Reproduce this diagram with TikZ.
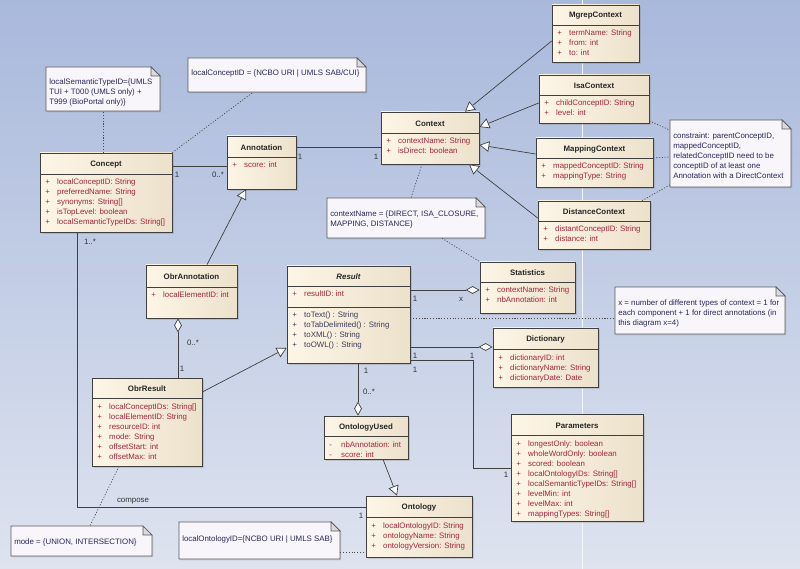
\documentclass[tikz,border=0pt]{standalone}
\usepackage{fontspec}
\setmainfont{Liberation Sans}
\usetikzlibrary{arrows.meta,fit,shadows}

\definecolor{bgtop}{HTML}{A9B9DC}
\definecolor{bgbot}{HTML}{DEE3EF}
\definecolor{clsleft}{HTML}{FDF5E6}
\definecolor{clsright}{HTML}{ECE1CB}
\definecolor{linecol}{HTML}{404040}
\definecolor{attrcol}{HTML}{A3263E}
\definecolor{methcol}{HTML}{3C3C5C}
\definecolor{notefill}{HTML}{F8F6FB}
\definecolor{notetxt}{HTML}{28285A}
\definecolor{foldcol}{HTML}{D9D9DE}

\newcommand{\umlfont}{\fontsize{5.6}{6.7}\selectfont}

% class box: name, x1, y1, x2, y2, separator, title
\newcommand{\umlclass}[7]{%
  \node[classbox, fit={(#2,#3) (#4,#5)}] (#1) {};
  \draw[classline] (#1.west |- 0,#6) -- (#1.east |- 0,#6);
  \node[classtitle] (#1-title) at ({(#2+#4)/2},{(#3+#6)/2+1}) {#7};
}
% members: style, name, x1, first baseline, marker, list
\newcommand{\umlmembers}[6]{%
  \foreach \t [count=\i] in {#6}
    \node[#1] (#2-#5\i) at ({#3+5},{#4+10*(\i-1)}) {\makebox[8.5pt][l]{#5}\t};
}
% note: name, x1, y1, x2, y2, first baseline, lines
\newcommand{\umlnote}[7]{%
  \node[notearea, fit={(#2,#3) (#4,#5)}] (#1) {};
  \filldraw[notebox] (#2,#3) -- ({#4-9},#3) -- (#4,{#3+9}) -- (#4,#5) -- (#2,#5) -- cycle;
  \filldraw[notefold] ({#4-9},#3) -- ({#4-9},{#3+9}) -- (#4,{#3+9}) -- cycle;
  \foreach \t [count=\i] in {#7}
    \node[notetext] (#1-\i) at ({#2+3},{#6+10*(\i-1)}) {\t};
}

\begin{document}
\begin{tikzpicture}[x=0.025cm, y=-0.025cm,
    classbox/.style={draw=linecol, line width=0.5pt, left color=clsleft, right color=clsright,
      inner sep=0pt, drop shadow={shadow xshift=1.3pt, shadow yshift=-1.3pt, opacity=0.3}},
    classline/.style={draw=linecol, line width=0.5pt},
    classtitle/.style={inner sep=0pt, font=\umlfont\bfseries, text=black!85},
    attr/.style={anchor=base west, inner sep=0pt, font=\umlfont, text=attrcol},
    meth/.style={anchor=base west, inner sep=0pt, font=\umlfont, text=methcol},
    notearea/.style={inner sep=0pt},
    notebox/.style={draw=black!65, line width=0.5pt, fill=notefill,
      drop shadow={shadow xshift=1pt, shadow yshift=-1pt, opacity=0.2}},
    notefold/.style={draw=black!65, line width=0.5pt, fill=foldcol},
    notetext/.style={anchor=base west, inner sep=0pt, font=\umlfont, text=notetxt},
    mult/.style={inner sep=0pt, font=\umlfont, text=black!80},
    assoc/.style={draw=linecol, line width=0.5pt},
    gen/.style={assoc, -{Triangle[length=7pt, width=7.5pt, fill=white]}},
    aggend/.style={assoc, -{Diamond[length=10pt, width=5.5pt, fill=white]}},
    aggstart/.style={assoc, {Diamond[length=10pt, width=5.5pt, fill=white]}-},
    noteline/.style={draw=black!70, line width=0.5pt, dash pattern=on 0.8pt off 1.2pt}]

    % background
    \shade[top color=bgtop, bottom color=bgbot] (0,0) rectangle (800,569);
    \useasboundingbox (0,0) rectangle (800,569);
    \draw[white!85!bgtop, line width=0.4pt] (582,0) -- (582,569);

    % notes
    \umlnote{semnote}{46}{67}{160}{111}{85}{localSemanticTypeID=\{UMLS, TUI + T000 (UMLS only) +, T999 (BioPortal only)\}}
    \umlnote{cidnote}{188}{58}{366}{92}{76}{localConceptID = \{NCBO URI | UMLS SAB/CUI\}}
    \umlnote{ctxnote}{327}{198}{485}{238}{217}{{contextName = \{DIRECT, ISA\_CLOSURE,}, {MAPPING, DISTANCE\}}}
    \umlnote{constraint}{670}{120}{791}{187}{139}{{constraint: parentConceptID,}, {mappedConceptID,}, relatedConceptID need to be, conceptID of at least one, Annotation with a DirectContext}
    \umlnote{xnote}{615}{287}{785}{334}{306}{x = number of different types of context = 1 for, each component + 1 for direct annotations (in, this diagram x=4)}
    \umlnote{modenote}{11}{526}{152}{556}{544}{{mode = \{UNION, INTERSECTION\}}}
    \umlnote{ontnote}{179}{522}{340}{559}{541}{localOntologyID=\{NCBO URI | UMLS SAB\}}

    % classes
    \umlclass{concept}{40}{153}{172}{232}{174}{Concept}
    \umlmembers{attr}{concept}{40}{185}{+}{localConceptID: String, preferredName: String, synonyms: String[], isTopLevel: boolean, localSemanticTypeIDs: String[]}
    \umlclass{annotation}{227}{136}{296}{189}{157}{Annotation}
    \umlmembers{attr}{annotation}{227}{168}{+}{score: int}
    \umlclass{context}{381}{112}{479}{164}{133}{Context}
    \umlmembers{attr}{context}{381}{144}{+}{contextName: String, isDirect: boolean}
    \umlclass{mgrep}{552}{5}{639}{62}{25}{MgrepContext}
    \umlmembers{attr}{mgrep}{552}{36}{+}{termName: String, from: int, to: int}
    \umlclass{isa}{539}{75}{649}{123}{95}{IsaContext}
    \umlmembers{attr}{isa}{539}{106}{+}{childConceptID: String, level: int}
    \umlclass{mapping}{536}{138}{653}{187}{158}{MappingContext}
    \umlmembers{attr}{mapping}{536}{169}{+}{mappedConceptID: String, mappingType: String}
    \umlclass{distance}{538}{201}{650}{249}{221}{DistanceContext}
    \umlmembers{attr}{distance}{538}{232}{+}{distantConceptID: String, distance: int}
    \umlclass{obrannotation}{146}{265}{237}{318}{287}{ObrAnnotation}
    \umlmembers{attr}{obrannotation}{146}{298}{+}{localElementID: int}
    \umlclass{obrresult}{92}{378}{202}{466}{398}{ObrResult}
    \umlmembers{attr}{obrresult}{92}{409}{+}{localConceptIDs: String[], localElementID: String, resourceID: int, mode: String, offsetStart: int, offsetMax: int}
    \umlclass{result}{287}{266}{410}{363}{286}{\itshape Result}
    \umlmembers{attr}{result}{287}{297}{+}{resultID: int}
    \draw[classline] (result.west |- 0,307) -- (result.east |- 0,307);
    \umlmembers{meth}{result-m}{287}{318}{+}{toText() : String, toTabDelimited() : String, toXML() : String, toOWL() : String}
    \umlclass{statistics}{480}{262}{575}{313}{282}{Statistics}
    \umlmembers{attr}{statistics}{480}{293}{+}{contextName: String, nbAnnotation: int}
    \umlclass{dictionary}{493}{328}{598}{387}{349}{Dictionary}
    \umlmembers{attr}{dictionary}{493}{360}{+}{dictionaryID: int, dictionaryName: String, dictionaryDate: Date}
    \umlclass{parameters}{511}{414}{643}{521}{435}{Parameters}
    \umlmembers{attr}{parameters}{511}{446}{+}{longestOnly: boolean, wholeWordOnly: boolean, scored: boolean, localOntologyIDs: String[], localSemanticTypeIDs: String[], levelMin: int, levelMax: int, mappingTypes: String[]}
    \umlclass{ontologyused}{324}{416}{408}{459}{436}{OntologyUsed}
    \umlmembers{attr}{ontologyused}{324}{447}{-}{nbAnnotation: int, score: int}
    \umlclass{ontology}{366}{496}{472}{557}{517}{Ontology}
    \umlmembers{attr}{ontology}{366}{528}{+}{localOntologyID: String, ontologyName: String, ontologyVersion: String}

    % associations
    \draw[assoc] (concept.east |- 0,166) -- (annotation.west |- 0,166);
    \draw[assoc] (annotation.east |- 0,147) -- (context.west |- 0,147);
    \draw[assoc] (concept.south -| 77,0) |- (ontology.west |- 0,507);
    \draw[assoc] (result.east |- 0,360) -- (473,360) |- (parameters.west |- 0,468);
    \draw[aggstart] (obrannotation.south -| 178,0) -- (obrresult.north -| 178,0);
    \draw[aggend] (result.east |- 0,290) -- (statistics.west |- 0,290);
    \draw[aggend] (result.east |- 0,347) -- (dictionary.west |- 0,347);
    \draw[aggend] (result.south -| 358,0) -- (ontologyused.north -| 358,0);

    % generalizations
    \draw[gen] (obrannotation.north -| 207,0) -- (annotation.south -| 246,0);
    \draw[gen] (obrresult.east |- 0,392) -- (result.west |- 0,348);
    \draw[gen] (ontologyused.south -| 383,0) -- (ontology.north -| 397,0);
    \draw[gen] (mgrep.west |- 0,41) -- (context.north -| 465,0);
    \draw[gen] (isa.west |- 0,103) -- (context.east |- 0,127);
    \draw[gen] (mapping.west |- 0,154) -- (context.east |- 0,145);
    \draw[gen] (distance.west |- 0,218) -- (context.south -| 469,0);

    % note links
    \draw[noteline] (concept.north -| 103,0) -- (semnote.south -| 103,0);
    \draw[noteline] (concept.north east) -- (cidnote.south -| 253,0);
    \draw[noteline] (context.south -| 422,0) -- (ctxnote.north -| 411,0);
    \draw[noteline] (ctxnote.south -| 442,0) -- (statistics.north west);
    \draw[noteline] (result.east |- 0,318) -- (xnote.west |- 0,318);
    \draw[noteline] (isa.east |- 0,121) -- (constraint.west |- 0,130);
    \draw[noteline] (mapping.east |- 0,158) -- (constraint.west |- 0,157);
    \draw[noteline] (distance.north -| 642,0) -- (constraint.west |- 0,185);
    \draw[noteline] (obrresult.south -| 119,0) -- (modenote.north -| 90,0);
    \draw[noteline] (ontnote.east |- 0,552) -- (ontology.west |- 0,552);

    % multiplicities
    \node[mult] (m-concept) at (177,175) {1};
    \node[mult] (m-annotation) at (218,175) {0..*};
    \node[mult] (m-ann-ctx) at (300,157) {1};
    \node[mult] (m-ctx-ann) at (376,157) {1};
    \node[mult] (m-concept-ont) at (90,242) {1..*};
    \node[mult] (m-ont-concept) at (361,516) {1};
    \node[mult] (compose) at (133,501) {compose};
    \node[mult] (m-obrann) at (193,343) {0..*};
    \node[mult] (m-obrres) at (182,369) {1};
    \node[mult] (m-res-stat) at (415,299) {1};
    \node[mult] (m-stat) at (461,299) {x};
    \node[mult] (m-res-dict) at (415,356) {1};
    \node[mult] (m-dict) at (472,356) {1};
    \node[mult] (m-res-par) at (415,370) {1};
    \node[mult] (m-par) at (506,475) {1};
    \node[mult] (m-res-ou) at (366,371) {1};
    \node[mult] (m-ou) at (369,392) {0..*};
\end{tikzpicture}
\end{document}
